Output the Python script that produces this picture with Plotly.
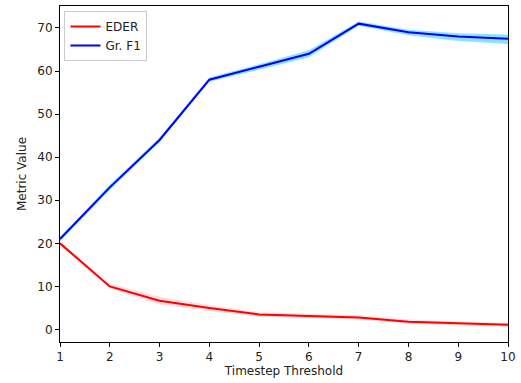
import plotly.graph_objects as go

thresholds = [1, 2, 3, 4, 5, 6, 7, 8, 9, 10]
eder_mean = [20.0, 10.0, 6.7, 5.0, 3.5, 3.2, 2.8, 1.8, 1.4, 1.1]
eder_lo = [19.6, 9.5, 5.8, 4.3, 3.0, 2.7, 2.3, 1.4, 1.0, 0.6]
eder_hi = [20.4, 10.6, 7.6, 5.7, 4.0, 3.7, 3.3, 2.3, 1.8, 1.5]
f1_mean = [21.0, 33.0, 44.0, 58.0, 61.0, 64.0, 71.0, 69.0, 68.0, 67.5]
f1_lo = [20.5, 32.4, 43.5, 57.5, 60.3, 63.2, 70.5, 68.3, 67.0, 66.3]
f1_hi = [21.5, 33.6, 44.5, 58.5, 61.6, 64.8, 71.5, 69.6, 68.8, 68.5]

FONT = dict(family="DejaVu Sans", size=12, color="#222")

fig = go.Figure()

def band(lo, hi, color):
    fig.add_trace(go.Scatter(x=thresholds, y=hi, mode="lines", line=dict(width=0, color=color),
                             showlegend=False, hoverinfo="skip"))
    fig.add_trace(go.Scatter(x=thresholds, y=lo, mode="lines", line=dict(width=0, color=color),
                             fill="tonexty", fillcolor=color, showlegend=False, hoverinfo="skip"))

band(eder_lo, eder_hi, "rgba(255,140,160,0.3)")
band(f1_lo, f1_hi, "rgba(0,191,255,0.45)")

fig.add_trace(go.Scatter(x=thresholds, y=eder_mean, mode="lines", name="EDER",
                         line=dict(color="red", width=2)))
fig.add_trace(go.Scatter(x=thresholds, y=f1_mean, mode="lines", name="Gr. F1",
                         line=dict(color="blue", width=2)))

axis_common = dict(showline=True, linecolor="black", linewidth=1, mirror=True,
                   ticks="outside", ticklen=4, tickcolor="black", showgrid=False,
                   zeroline=False, tickfont=FONT)

fig.update_xaxes(range=[1, 10], tickvals=thresholds,
                 title=dict(text="Timestep Threshold", font=FONT, standoff=3),
                 **axis_common)
fig.update_yaxes(range=[-2.9, 75.1], tickvals=[0, 10, 20, 30, 40, 50, 60, 70],
                 title=dict(text="Metric Value", font=FONT, standoff=8),
                 **axis_common)

fig.update_layout(
    width=521, height=383,
    margin=dict(l=60, r=9, t=5, b=41),
    plot_bgcolor="white", paper_bgcolor="white",
    font=FONT,
    legend=dict(x=0.01, y=0.985, xanchor="left", yanchor="top", traceorder="normal",
                bgcolor="rgba(255,255,255,0.8)", bordercolor="#ccc", borderwidth=1,
                font=FONT),
)

fig.write_html("out.html", config={"displayModeBar": False},
               post_script="document.body.style.margin='0';document.body.style.overflow='hidden';")
